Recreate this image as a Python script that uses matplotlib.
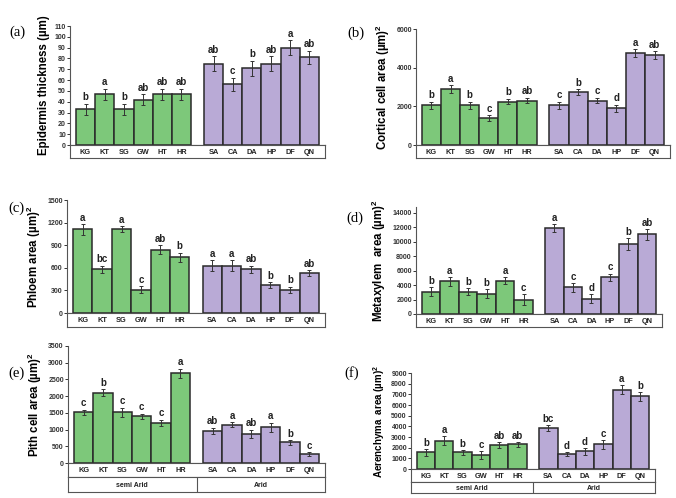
import numpy as np
import matplotlib
matplotlib.use("Agg")
import matplotlib.pyplot as plt

plt.rcParams['font.family'] = ['Liberation Sans', 'DejaVu Sans']
plt.rcParams['mathtext.fontset'] = 'custom'
plt.rcParams['mathtext.rm'] = 'Liberation Sans'
plt.rcParams['mathtext.bf'] = 'Liberation Sans:bold'

# data
sites = ["KG", "KT", "SG", "GW", "HT", "HR", "SA", "CA", "DA", "HP", "DF", "QN"]
groups = ["semi Arid", "Arid"]

epidermis = [33, 47, 33, 42, 47, 47, 75, 56, 71, 75, 90, 81]
epidermis_err = [5, 5, 5, 5, 5, 5, 7, 6, 7, 7, 7, 6]
epidermis_let = ["b", "a", "b", "ab", "ab", "ab", "ab", "c", "b", "ab", "a", "ab"]

cortical = [2050, 2900, 2050, 1400, 2250, 2300, 2050, 2750, 2300, 1900, 4750, 4650]
cortical_err = [200, 200, 180, 150, 150, 150, 200, 150, 150, 180, 200, 200]
cortical_let = ["b", "a", "b", "c", "b", "ab", "c", "b", "c", "d", "a", "ab"]

phloem = [1110, 580, 1110, 310, 840, 740, 630, 630, 580, 370, 310, 530]
phloem_err = [70, 50, 40, 50, 60, 60, 70, 70, 50, 40, 40, 40]
phloem_let = ["a", "bc", "a", "c", "ab", "b", "a", "a", "ab", "b", "b", "ab"]

metaxylem = [3100, 4500, 3100, 2800, 4600, 2000, 11900, 3700, 2100, 5100, 9700, 11000]
metaxylem_err = [600, 600, 500, 600, 500, 700, 500, 600, 600, 500, 800, 700]
metaxylem_let = ["b", "a", "b", "b", "a", "c", "a", "c", "d", "c", "b", "ab"]

pith = [1520, 2100, 1520, 1400, 1200, 2680, 960, 1150, 880, 1070, 620, 260]
pith_err = [80, 100, 140, 70, 90, 140, 90, 70, 120, 130, 70, 60]
pith_let = ["c", "b", "c", "c", "c", "a", "ab", "a", "ab", "a", "b", "c"]

aerenchyma = [1550, 2650, 1550, 1300, 2250, 2300, 3850, 1400, 1650, 2300, 7450, 6800]
aerenchyma_err = [300, 400, 250, 350, 300, 200, 300, 200, 300, 450, 400, 400]
aerenchyma_let = ["b", "a", "b", "c", "ab", "ab", "bc", "d", "d", "c", "a", "b"]

green = "#7dc87a"
purple = "#b9aad6"
colors = [green] * 6 + [purple] * 6
xpos = np.array([0, 1, 2, 3, 4, 5, 6.67, 7.67, 8.67, 9.67, 10.67, 11.67])
xlim = (-0.81, 12.48)

W, H = 676, 498
fig = plt.figure(figsize=(W / 100, H / 100), dpi=100)


def px_axes(x0, y0, x1, y1):
    return fig.add_axes([x0 / W, 1 - y1 / H, (x1 - x0) / W, (y1 - y0) / H])


def panel(box, tab1, tab2, vals, errs, lets, ylim, yticks, ylabel, tag, tagpos,
          lsize=8.3):
    x0, y0, x1, y1 = box
    ax = px_axes(x0, y0, x1, y1)
    ax.bar(xpos, vals, width=1.0, color=colors, edgecolor="#2a2a2a", linewidth=1.1)
    ax.errorbar(xpos, vals, yerr=errs, fmt="none", ecolor="#333333",
                elinewidth=0.7, capsize=1.5, capthick=0.7)
    off = (ylim[1] - ylim[0]) * 0.012
    for x, v, e, l in zip(xpos, vals, errs, lets):
        ax.text(x, v + e + off, l, ha="center", va="bottom", fontsize=7,
                fontweight="bold", color="#222222")
    ax.set_xlim(*xlim)
    ax.set_ylim(*ylim)
    ax.set_yticks(yticks)
    ax.set_xticks([])
    for s in ["top", "right"]:
        ax.spines[s].set_visible(False)
    ax.spines["left"].set_color("#555555")
    ax.spines["bottom"].set_color("#555555")
    ax.tick_params(axis="y", length=2, width=0.7, pad=1, labelsize=5,
                   colors="#333333")
    for t in ax.get_yticklabels():
        t.set_fontweight("bold")
    ax.set_ylabel(ylabel, fontsize=lsize, fontweight="bold", labelpad=3)

    # category label box
    tb = px_axes(x0, y1, x1, tab1)
    tb.set_xlim(*xlim)
    tb.set_ylim(0, 1)
    tb.set_xticks([])
    tb.set_yticks([])
    for s in tb.spines.values():
        s.set_color("#555555")
        s.set_linewidth(0.8)
    for x, s in zip(xpos, sites):
        tb.text(x, 0.45, s, ha="center", va="center", fontsize=5.3,
                fontweight="bold", color="#222222")

    if tab2 is not None:
        gb = px_axes(x0, tab1, x1, tab2)
        gb.set_xlim(*xlim)
        gb.set_ylim(0, 1)
        gb.set_xticks([])
        gb.set_yticks([])
        for s in gb.spines.values():
            s.set_color("#555555")
            s.set_linewidth(0.8)
        gb.axvline(5.85, color="#555555", linewidth=0.8)
        gb.text(xpos[:6].mean(), 0.45, groups[0], ha="center", va="center",
                fontsize=5, fontweight="bold", color="#222222")
        gb.text(xpos[6:].mean(), 0.45, groups[1], ha="center", va="center",
                fontsize=5, fontweight="bold", color="#222222")

    fig.text(tagpos[0] / W, 1 - tagpos[1] / H, tag, fontsize=10.5,
             family="Liberation Serif", ha="left", va="center")


panel((70, 26, 325, 145), 158, None, epidermis, epidermis_err, epidermis_let,
      (0, 110), np.arange(0, 111, 10), "Epidermis thickness (µm)", "(a)", (9, 32))
panel((416, 29, 670, 145), 158, None, cortical, cortical_err, cortical_let,
      (0, 6000), [0, 2000, 4000, 6000], r"Cortical cell area (µm)$^\mathbf{2}$",
      "(b)", (347, 33))
panel((67, 200, 325, 313), 327, None, phloem, phloem_err, phloem_let,
      (0, 1500), np.arange(0, 1501, 300), r"Phloem area (µm)$^\mathbf{2}$",
      "(c)", (8, 208))
panel((416, 207, 662, 314), 327, None, metaxylem, metaxylem_err, metaxylem_let,
      (0, 14800), np.arange(0, 14001, 2000), r"Metaxylem  area (µm)$^\mathbf{2}$",
      "(d)", (346, 218))
panel((68, 346, 325, 463), 477, 492, pith, pith_err, pith_let,
      (0, 3500), np.arange(0, 3501, 500), r"Pith cell area (µm)$^\mathbf{2}$",
      "(e)", (8, 373))
panel((411, 373, 655, 469), 482, 493, aerenchyma, aerenchyma_err, aerenchyma_let,
      (0, 9000), np.arange(0, 9001, 1000), r"Aerenchyma  area (µm)$^\mathbf{2}$",
      "(f)", (344, 373), lsize=7)

fig.savefig("out.png", dpi=100)
